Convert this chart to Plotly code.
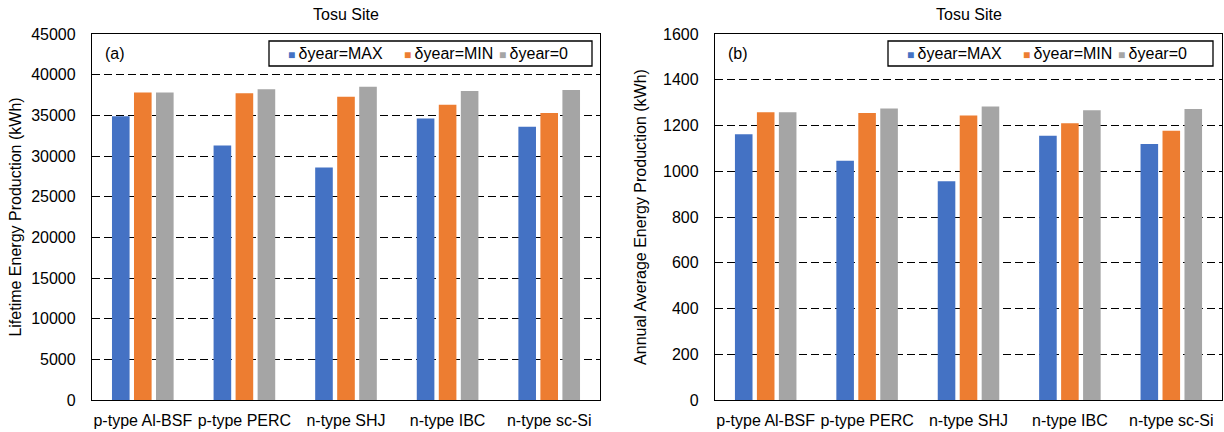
import plotly.graph_objects as go

categories = ["p-type Al-BSF", "p-type PERC", "n-type SHJ", "n-type IBC", "n-type sc-Si"]
series_names = ["δyear=MAX", "δyear=MIN", "δyear=0"]
lifetime_max = [34900, 31300, 28600, 34600, 33600]
lifetime_min = [37800, 37700, 37300, 36300, 35300]
lifetime_zero = [37800, 38200, 38500, 38000, 38100]
annual_max = [1162, 1046, 956, 1155, 1119]
annual_min = [1258, 1255, 1244, 1210, 1177]
annual_zero = [1258, 1274, 1283, 1267, 1272]
left_ticks = list(range(0, 45001, 5000))
right_ticks = list(range(0, 1601, 200))
colors = ["#4472C4", "#ED7D31", "#A5A5A5"]

W, H = 1224, 432
FONT = "Liberation Sans, Arial, sans-serif"


def px(x):
    return x / W


def py(y):
    return 1 - y / H


fig = go.Figure()
for vals, name, col in zip([lifetime_max, lifetime_min, lifetime_zero], series_names, colors):
    fig.add_trace(go.Bar(x=categories, y=vals, name=name, marker_color=col,
                         marker_line_width=0, showlegend=False, xaxis="x", yaxis="y"))
for vals, name, col in zip([annual_max, annual_min, annual_zero], series_names, colors):
    fig.add_trace(go.Bar(x=categories, y=vals, name=name, marker_color=col,
                         marker_line_width=0, showlegend=False, xaxis="x2", yaxis="y2"))

xcommon = dict(type="category", showline=True, linecolor="black", linewidth=1.3, mirror=True,
               ticks="", showgrid=False, tickfont=dict(size=16, color="black", family=FONT),
               automargin=False, ticklabelstandoff=6)
ycommon = dict(showline=True, linecolor="black", linewidth=1.3, mirror=True, ticks="",
               showgrid=True, gridcolor="black", gridwidth=1.2, griddash="8px,4px",
               zeroline=False, tickfont=dict(size=16, color="black", family=FONT),
               tickformat="d", automargin=False, ticklabelstandoff=12)

fig.update_layout(
    template="none",
    width=W, height=H,
    margin=dict(l=0, r=0, t=0, b=0),
    paper_bgcolor="white", plot_bgcolor="white",
    font=dict(family=FONT, color="black", size=16),
    barmode="group", bargap=0.35, bargroupgap=0.2,
    showlegend=False,
    xaxis=dict(domain=[px(92), px(600)], anchor="y", **xcommon),
    yaxis=dict(domain=[py(400), py(34)], anchor="x", range=[0, 45000], tickvals=left_ticks,
               title=dict(text="Lifetime Energy Production (kWh)", font=dict(size=16), standoff=5),
               **ycommon),
    xaxis2=dict(domain=[px(715), px(1222)], anchor="y2", **xcommon),
    yaxis2=dict(domain=[py(400), py(34)], anchor="x2", range=[0, 1600], tickvals=right_ticks,
                title=dict(text="Annual Average Energy Production (kWh)", font=dict(size=16), standoff=12),
                **ycommon),
)

annotations = []
shapes = []
# panel titles and labels
for cx, lab_x, lab in [((92 + 600) / 2, 103, "(a)"), ((715 + 1222) / 2, 726, "(b)")]:
    annotations.append(dict(x=px(cx), y=py(14), xref="paper", yref="paper", text="Tosu Site",
                            showarrow=False, xanchor="center", yanchor="middle",
                            font=dict(size=16, family=FONT, color="black")))
    annotations.append(dict(x=px(lab_x), y=py(53), xref="paper", yref="paper", text=lab,
                            showarrow=False, xanchor="left", yanchor="middle",
                            font=dict(size=16, family=FONT, color="black")))

# legends (boxed, horizontal)
entry_offsets = [17, 133, 228]
for box_left, box_right in [(269, 592), (888, 1213)]:
    shapes.append(dict(type="rect", xref="paper", yref="paper", x0=px(box_left), x1=px(box_right),
                       y0=py(66), y1=py(41), line=dict(color="black", width=1.3),
                       fillcolor="white", layer="above"))
    for off, name, col in zip(entry_offsets, series_names, colors):
        annotations.append(dict(
            x=px(box_left + off), y=py(53.5), xref="paper", yref="paper",
            text=f"<span style='color:{col};font-size:12px'>■ </span>{name}",
            showarrow=False, xanchor="left", yanchor="middle",
            font=dict(size=16, family=FONT, color="black")))

fig.update_layout(annotations=annotations, shapes=shapes)
fig.write_html("out.html", config={"displayModeBar": False},
               post_script="document.body.style.margin='0';")
